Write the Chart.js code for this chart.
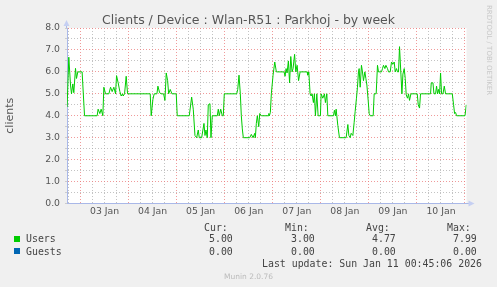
<!DOCTYPE html>
<html>
<head>
<meta charset="utf-8">
<title>Clients / Device : Wlan-R51 : Parkhoj - by week</title>
<script src="https://cdn.jsdelivr.net/npm/chart.js"></script>
<style>
  html, body { margin: 0; padding: 0; background: #f0f0f0; }
  .graph { position: relative; width: 497px; height: 287px; overflow: hidden; }
  canvas { position: absolute; left: 0; top: 0; }
  .txt { position: absolute; white-space: pre; height: 12px; line-height: 12px; }
  .title { left: 0; width: 497px; text-align: center; top: 11.5px; height: 16px; line-height: 16px;
           font-family: "DejaVu Sans", sans-serif; font-size: 12.5px; color: #555; }
  .mono { font-family: "DejaVu Sans Mono", monospace; font-size: 9.9px; color: #444; }
  .box { position: absolute; width: 6px; height: 6px; }
  .rrd { position: absolute; left: 485px; top: 5px; writing-mode: vertical-rl; white-space: pre;
         font-family: "DejaVu Sans", sans-serif; font-size: 7px; color: #c8c8c8; }
  .munin { left: 0; width: 497px; text-align: center; top: 270.5px;
           font-family: "DejaVu Sans", sans-serif; font-size: 7.5px; color: #bbb; }
</style>
</head>
<body>
<div class="graph">
  <canvas id="weekChart" width="497" height="287"></canvas>
  <div class="txt title">Clients / Device : Wlan-R51 : Parkhoj - by week</div>
  <div class="rrd">RRDTOOL / TOBI OETIKER</div>
  <div id="legend"></div>
  <div class="txt mono" style="left:262px; top:258px;">Last update: Sun Jan 11 00:45:06 2026</div>
  <div class="txt munin">Munin 2.0.76</div>
</div>
<script>
// hours counted from 03 Jan 00:00
const dayLabels = ["03 Jan", "04 Jan", "05 Jan", "06 Jan", "07 Jan", "08 Jan", "09 Jan", "10 Jan"];
const xMin = -6.75;
const xMax = 192.75;

const userHours = [
  -6.7, -5.85, -5.0, -4.5, -3.85, -3.35, -2.5, -2.0, -1.35, 0.8, 2.0, 8.3, 8.8, 9.65, 10.3, 11.15,
  11.65, 12.5, 14.15, 15.0, 15.8, 16.65, 17.5, 18.0, 18.8, 19.65, 20.3, 21.0, 21.3, 22.0, 22.8, 23.5,
  34.8, 35.3, 36.15, 36.8, 38.15, 38.65, 39.5, 40.3, 41.5, 42.15, 42.8, 43.5, 44.0, 44.8, 45.65, 47.8,
  48.3, 54.3, 55.5, 56.3, 57.15, 58.0, 58.8, 59.3, 60.5, 61.65, 62.15, 62.65, 63.3, 63.8, 64.65, 65.15,
  65.8, 68.3, 68.8, 69.3, 70.0, 70.8, 71.3, 71.8, 78.0, 78.5, 79.15, 79.8, 80.3, 80.8, 81.3, 84.5,
  85.3, 86.15, 87.0, 87.3, 87.8, 88.3, 89.0, 89.5, 90.3, 93.65, 94.0, 94.3, 94.8, 95.3, 96.15, 97.0,
  97.8, 101.65, 102.15, 102.65, 103.15, 103.8, 104.4, 105.0, 105.65, 106.15, 106.9, 107.5, 108.15, 108.9, 109.65, 113.15,
  113.5, 114.0, 114.65, 115.15, 115.65, 116.3, 116.8, 117.3, 118.0, 118.65, 119.8, 120.15, 121.0, 121.8, 122.3, 123.0,
  123.5, 126.3, 126.8, 127.3, 127.65, 128.5, 129.3, 132.65, 133.5, 134.0, 134.65, 135.15, 136.0, 136.65, 137.15, 137.8,
  138.3, 138.8, 139.15, 139.65, 140.3, 140.8, 141.3, 142.0, 142.5, 143.0, 143.65, 144.15, 144.65, 146.15, 146.65, 147.65,
  148.3, 148.8, 150.3, 150.8, 151.3, 152.0, 152.5, 153.3, 153.8, 154.65, 155.3, 156.0, 156.65, 157.15, 157.8, 158.3,
  158.8, 159.3, 160.0, 160.5, 161.0, 161.65, 162.15, 162.65, 163.3, 163.8, 164.3, 165.0, 168.15, 168.65, 169.3, 169.8,
  174.8, 175.15, 176.0, 176.5, 177.3, 177.8, 178.3, 178.8, 179.3, 179.8, 180.3, 181.0, 181.65, 182.3, 185.65, 186.3,
  186.8, 187.3, 187.8, 192.0, 192.65
];
const userValues = [
  4.4, 6.67, 5.4, 5.0, 5.45, 5.05, 6.16, 5.7, 6.0, 6.0, 4.0, 4.0, 4.3, 4.1, 4.3, 4.0,
  5.3, 5.0, 5.0, 5.3, 5.1, 5.3, 5.0, 5.83, 5.5, 5.1, 4.9, 5.0, 4.9, 5.0, 5.8, 5.0,
  5.0, 4.0, 4.75, 5.0, 5.0, 5.35, 5.05, 5.0, 5.0, 4.7, 5.95, 5.6, 5.0, 5.2, 5.0, 5.0,
  4.0, 4.0, 4.85, 4.3, 3.1, 3.0, 3.35, 3.0, 3.0, 3.65, 3.1, 3.35, 3.0, 4.5, 4.55, 3.0,
  4.0, 4.0, 4.3, 4.0, 4.3, 4.0, 4.0, 5.0, 5.0, 5.2, 5.85, 5.0, 4.0, 3.4, 3.0, 3.0,
  3.15, 3.0, 3.2, 3.0, 3.65, 4.0, 3.5, 4.1, 4.0, 4.0, 4.1, 4.0, 4.15, 5.0, 5.85, 6.45,
  6.0, 6.0, 5.8, 6.15, 5.95, 6.5, 5.5, 6.7, 6.0, 6.15, 6.8, 6.0, 6.3, 5.6, 6.0, 6.0,
  5.85, 6.0, 5.0, 4.9, 5.0, 4.6, 5.0, 4.0, 5.0, 4.0, 4.0, 5.0, 4.8, 5.0, 4.6, 5.0,
  4.0, 4.0, 4.25, 4.0, 4.3, 3.55, 3.0, 3.0, 3.6, 3.1, 3.0, 3.2, 3.1, 3.7, 4.2, 4.8,
  5.3, 6.0, 6.15, 5.3, 6.3, 6.0, 5.6, 6.0, 5.7, 5.4, 4.7, 4.1, 4.0, 4.0, 5.0, 5.0,
  6.3, 6.0, 6.0, 6.15, 6.3, 6.15, 6.3, 6.15, 6.0, 6.0, 6.45, 6.35, 6.45, 6.0, 6.15, 6.0,
  6.0, 7.15, 5.9, 5.0, 5.9, 6.15, 5.7, 4.95, 4.8, 5.0, 4.7, 5.0, 5.0, 4.5, 4.35, 5.0,
  5.0, 5.5, 5.5, 5.0, 5.0, 5.35, 5.0, 5.2, 5.0, 5.95, 5.0, 5.0, 5.35, 5.0, 5.0, 4.5,
  4.1, 4.15, 4.0, 4.0, 4.5
];
const guestHours = [xMin, xMax];
const guestValues = [0, 0];

const legendHeads = ["Cur:", "Min:", "Avg:", "Max:"];
const usersStats = ["5.00", "3.00", "4.77", "7.99"];
const guestsStats = ["0.00", "0.00", "0.00", "0.00"];

const majorGrid = "rgba(235, 120, 120, 0.75)";
const minorGrid = "rgba(170, 170, 170, 0.7)";
const axisColor = "#a9b8e8";
const tickFont = { family: "DejaVu Sans", size: 9.3 };

// legend table under the graph
const legend = document.getElementById("legend");
const headLeft = [204, 285, 366, 447];
const valueLeft = [209, 291, 372, 453];
function addText(text, left, top) {
  const el = document.createElement("div");
  el.className = "txt mono";
  el.style.left = left + "px";
  el.style.top = top + "px";
  el.textContent = text;
  legend.appendChild(el);
}
function addBox(color, top) {
  const el = document.createElement("div");
  el.className = "box";
  el.style.left = "14px";
  el.style.top = top + "px";
  el.style.background = color;
  legend.appendChild(el);
}
legendHeads.forEach((h, i) => addText(h, headLeft[i], 222));
addBox("#00cc00", 236);
addText("Users", 26, 233);
usersStats.forEach((v, i) => addText(v, valueLeft[i], 233));
addBox("#0066b3", 248);
addText("Guests", 26, 246);
guestsStats.forEach((v, i) => addText(v, valueLeft[i], 246));

const plotFrame = {
  id: "plotFrame",
  beforeDraw(chart) {
    const { ctx, chartArea: a } = chart;
    ctx.save();
    ctx.fillStyle = "#ffffff";
    ctx.fillRect(a.left, a.top, a.right - a.left, a.bottom - a.top);
    ctx.restore();
  },
  afterDraw(chart) {
    const { ctx, chartArea: a } = chart;
    const x0 = Math.round(a.left) - 0.5;
    const y0 = Math.round(a.bottom - 0.5) + 0.5;
    ctx.save();
    ctx.strokeStyle = axisColor;
    ctx.fillStyle = "#c5cff2";
    ctx.lineWidth = 1;
    ctx.beginPath();
    ctx.moveTo(x0, a.top);
    ctx.lineTo(x0, a.top - 3);
    ctx.moveTo(a.right, y0);
    ctx.lineTo(a.right + 3, y0);
    ctx.stroke();
    ctx.beginPath();
    ctx.moveTo(x0 - 3, a.top - 2);
    ctx.lineTo(x0 + 3, a.top - 2);
    ctx.lineTo(x0, a.top - 8);
    ctx.closePath();
    ctx.fill();
    ctx.beginPath();
    ctx.moveTo(a.right + 2, y0 - 3);
    ctx.lineTo(a.right + 2, y0 + 3);
    ctx.lineTo(a.right + 8, y0);
    ctx.closePath();
    ctx.fill();
    ctx.restore();
  },
};

new Chart(document.getElementById("weekChart"), {
  type: "line",
  data: {
    datasets: [
      {
        label: "Users",
        data: userHours.map((h, i) => ({ x: h, y: userValues[i] })),
        borderColor: "#00cc00",
        borderWidth: 1,
        pointRadius: 0,
        tension: 0,
      },
      {
        label: "Guests",
        data: guestHours.map((h, i) => ({ x: h, y: guestValues[i] })),
        borderColor: "#0066b3",
        borderWidth: 1,
        pointRadius: 0,
      },
    ],
  },
  plugins: [plotFrame],
  options: {
    responsive: false,
    animation: false,
    layout: { padding: { top: 28, right: 30.5, bottom: 0, left: 0 } },
    plugins: {
      legend: { display: false },
      tooltip: { enabled: false },
    },
    scales: {
      x: {
        type: "linear",
        min: xMin,
        max: xMax,
        afterFit: (s) => { s.height = 83.5; },
        ticks: {
          stepSize: 6,
          autoSkip: false,
          maxRotation: 0,
          includeBounds: false,
          padding: 3,
          color: "#555",
          font: tickFont,
          callback: (v) => (v % 24 === 12 ? dayLabels[(v - 12) / 24] : ""),
        },
        grid: {
          color: (c) => (c.tick.value % 24 === 0 ? majorGrid : minorGrid),
          drawTicks: false,
          borderDash: [1, 2],
        },
        border: { color: axisColor, dash: [1, 2], z: 1 },
      },
      y: {
        min: 0,
        max: 8,
        afterFit: (s) => { s.width = 67; },
        ticks: {
          stepSize: 0.5,
          autoSkip: false,
          padding: 5,
          color: "#555",
          font: tickFont,
          callback: (v) => (Number.isInteger(v) ? v.toFixed(1) : ""),
        },
        grid: {
          color: (c) => (Number.isInteger(c.tick.value) ? majorGrid : minorGrid),
          tickColor: "#cccccc",
          tickLength: 2,
          borderDash: [1, 2],
        },
        border: { color: axisColor, dash: [1, 2] },
        title: {
          display: true,
          text: "clients",
          color: "#555",
          font: { family: "DejaVu Sans", size: 11 },
          padding: { top: 4 },
        },
      },
    },
  },
});
</script>
</body>
</html>
